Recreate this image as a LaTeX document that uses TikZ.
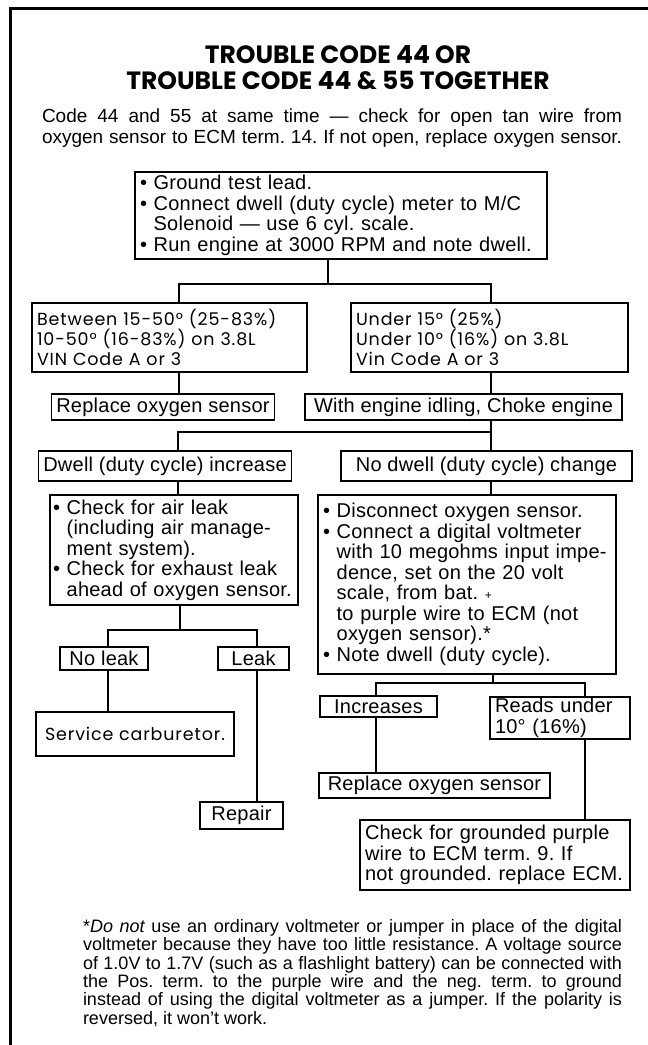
\documentclass[tikz,border=0pt]{standalone}
\usepackage{fontspec}
\setmainfont{Liberation Sans}
\newfontfamily\geo{Poppins}
\newcommand\bul{\textbullet\ }
\newcommand\ind{\hphantom{\textbullet\ }}
\begin{document}
\frenchspacing
\hyphenpenalty=10000
\exhyphenpenalty=10000
\begin{tikzpicture}[x=1pt,y=-1pt,
  frame/.style={line width=3pt},
  tbox/.style={draw, line width=1.3pt, inner xsep=5pt, inner ysep=0pt,
    font=\fontsize{20}{20.5}\selectfont\addfontfeatures{LetterSpace=1.2}},
  gbox/.style={tbox, font=\geo\fontsize{17.5}{20}\selectfont\addfontfeatures{LetterSpace=5}},
  wire/.style={line width=1.2pt},
]
\useasboundingbox (0,0) rectangle (648,1045);
% outer frame (top and left rules)
\draw[frame] (648,8) -- (10,8) -- (10,1045);

% heading and introduction
\node[font=\geo\bfseries\fontsize{25}{26}\selectfont, align=center] (title) at (338,68)
  {TROUBLE CODE 44 OR\\TROUBLE CODE 44 \& 55 TOGETHER};
\node[font=\fontsize{19}{21}\selectfont, align=left, inner sep=0pt] (intro) at (332,128)
  {\makebox[580pt][s]{Code 44 and 55 at same time --- check for open tan wire from}\\
   \makebox[580pt][s]{oxygen sensor to ECM term. 14. If not open, replace oxygen sensor.}};

% boxes
\node[tbox, text width=402pt, minimum height=87pt, align=left] (b1) at (341,215.5)
  {\bul Ground test lead.\\
   \bul Connect dwell (duty cycle) meter to M/C\\
   \ind Solenoid --- use 6 cyl. scale.\\
   \bul Run engine at 3000 RPM and note dwell.};
\node[gbox, text width=265pt, minimum height=69pt, align=left] (b2l) at (169.5,337.5)
  {Between 15-50° (25-83\%)\\10-50° (16-83\%) on 3.8L\\VIN Code A or 3};
\node[gbox, text width=267pt, minimum height=69pt, align=left] (b2r) at (489.5,337.5)
  {Under 15° (25\%)\\Under 10° (16\%) on 3.8L\\Vin Code A or 3};
\node[tbox, minimum width=216pt, minimum height=26pt] (b3l) at (163,407) {Replace oxygen sensor};
\node[tbox, minimum width=317pt, minimum height=26pt] (b3r) at (463.5,407) {With engine idling, Choke engine};
\node[tbox, minimum width=248pt, minimum height=30pt] (b4l) at (165,466) {Dwell (duty cycle) increase};
\node[tbox, minimum width=291pt, minimum height=30pt] (b4r) at (486.5,466) {No dwell (duty cycle) change};
\node[tbox, inner xsep=3pt, text width=242pt, minimum height=110pt, align=left] (b5l) at (174,550)
  {\bul Check for air leak\\
   \ind (including air manage-\\
   \ind ment system).\\
   \bul Check for exhaust leak\\
   \ind ahead of oxygen sensor.};
\node[tbox, text width=288pt, minimum height=179pt, align=left] (b5r) at (467,584.5)
  {\bul Disconnect oxygen sensor.\\
   \bul Connect a digital voltmeter\\
   \ind with 10 megohms input impe-\\
   \ind dence, set on the 20 volt\\
   \ind scale, from bat. {\fontsize{12}{12}\selectfont +}\\
   \ind to purple wire to ECM (not\\
   \ind oxygen sensor).*\\
   \bul Note dwell (duty cycle).};
\node[tbox, minimum width=88pt, minimum height=23pt] (b6a) at (104,658.5) {No leak};
\node[tbox, minimum width=71pt, minimum height=23pt] (b6b) at (253.5,658.5) {Leak};
\node[gbox, minimum width=198pt, minimum height=44pt] (b7a) at (135,734) {Service carburetor.};
\node[tbox, minimum width=83pt, minimum height=27pt] (b7b) at (241.5,815.5) {Repair};
\node[tbox, minimum width=117pt, minimum height=21pt] (b6c) at (378.5,706.5) {Increases};
\node[tbox, text width=130pt, minimum height=42pt, align=left] (b6d) at (560,718)
  {Reads under\\10° (16\%)};
\node[tbox, minimum width=231pt, minimum height=25pt] (b7c) at (434.5,785.5) {Replace oxygen sensor};
\node[tbox, text width=260pt, minimum height=70pt, align=left] (b7d) at (495,855)
  {Check for grounded purple\\wire to ECM term. 9. If\\not grounded. replace ECM.};

% footnote
\node[font=\fontsize{18}{18.3}\selectfont, align=left, inner sep=0pt] (note) at (352.5,973)
  {\makebox[539pt][s]{*{\itshape Do not} use an ordinary voltmeter or jumper in place of the digital}\\
   \makebox[539pt][s]{voltmeter because they have too little resistance. A voltage source}\\
   \makebox[539pt][s]{of 1.0V to 1.7V (such as a flashlight battery) can be connected with}\\
   \makebox[539pt][s]{the Pos. term. to the purple wire and the neg. term. to ground}\\
   \makebox[539pt][s]{instead of using the digital voltmeter as a jumper. If the polarity is}\\
   reversed, it won't work.};

% junction points of the connectors
\coordinate (j1) at (328,284);
\coordinate (h1a) at (179,284);
\coordinate (h1b) at (491,284);
\coordinate (j3) at (491,432);
\coordinate (h3a) at (178,432);
\coordinate (j5) at (180,630);
\coordinate (h5a) at (108,630);
\coordinate (h5b) at (257,630);
\coordinate (j6) at (493,683);
\coordinate (h6a) at (376,683);
\coordinate (h6b) at (585,683);

% connectors
\draw[wire] (j1 |- b1.south) -- (j1);
\draw[wire] (h1a |- b2l.north) -- (h1a) -- (h1b) -- (h1b |- b2r.north);
\draw[wire] (h1a |- b2l.south) -- (h1a |- b3l.north);
\draw[wire] (h1b |- b2r.south) -- (h1b |- b3r.north);
\draw[wire] (j3 |- b3r.south) -- (j3 |- b4r.north);
\draw[wire] (h3a |- b4l.north) -- (h3a) -- (j3);
\draw[wire] (h3a |- b4l.south) -- (h3a |- b5l.north);
\draw[wire] (j3 |- b4r.south) -- (j3 |- b5r.north);
\draw[wire] (j5 |- b5l.south) -- (j5);
\draw[wire] (h5a |- b6a.north) -- (h5a) -- (h5b) -- (h5b |- b6b.north);
\draw[wire] (h5a |- b6a.south) -- (h5a |- b7a.north);
\draw[wire] (h5b |- b6b.south) -- (h5b |- b7b.north);
\draw[wire] (j6 |- b5r.south) -- (j6);
\draw[wire] (h6a |- b6c.north) -- (h6a) -- (h6b) -- (h6b |- b6d.north);
\draw[wire] (h6a |- b6c.south) -- (h6a |- b7c.north);
\draw[wire] (h6b |- b6d.south) -- (h6b |- b7d.north);
\end{tikzpicture}
\end{document}
